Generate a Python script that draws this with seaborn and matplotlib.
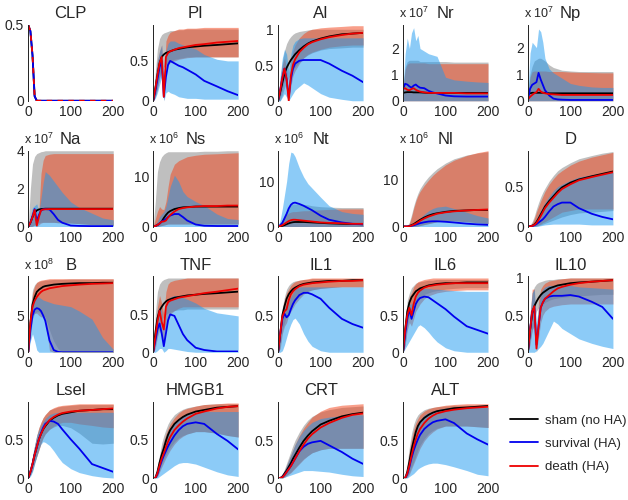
# Model trajectories: sham vs. survival vs. death, mean with shaded range
import pandas as pd
import seaborn as sb
import matplotlib.pyplot as plt
from matplotlib.lines import Line2D

# Time points (hours)
t = [0, 5, 10, 15, 20, 25, 30, 35, 40, 50, 60, 70, 80, 100, 120, 150, 175, 200]

zero_band = [0, 0, 0, 0, 0, 0, 0, 0, 0, 0, 0, 0, 0, 0, 0, 0, 0, 0]

# CLP (same for all groups)
clp = [0.5, 0.46, 0.3, 0.03, 0, 0, 0, 0, 0, 0, 0, 0, 0, 0, 0, 0, 0, 0]

# PI
pi_sham = [0, 0.15, 0.32, 0.47, 0.55, 0.58, 0.6, 0.61, 0.62, 0.64, 0.65, 0.66, 0.67, 0.68, 0.69, 0.7, 0.71, 0.72]
pi_sham_lo = [0, 0.05, 0.15, 0.28, 0.36, 0.42, 0.46, 0.48, 0.5, 0.52, 0.53, 0.54, 0.55, 0.55, 0.55, 0.55, 0.55, 0.55]
pi_sham_hi = [0, 0.35, 0.65, 0.78, 0.83, 0.85, 0.86, 0.87, 0.88, 0.88, 0.89, 0.89, 0.9, 0.9, 0.9, 0.9, 0.9, 0.9]
pi_surv = [0, 0.12, 0.27, 0.42, 0.5, 0.05, 0.3, 0.45, 0.5, 0.47, 0.44, 0.42, 0.39, 0.33, 0.25, 0.18, 0.12, 0.07]
pi_surv_lo = [0, 0.03, 0.1, 0.2, 0.3, 0.0, 0.1, 0.12, 0.1, 0.08, 0.05, 0.04, 0.03, 0.03, 0.02, 0.02, 0.02, 0.02]
pi_surv_hi = [0, 0.3, 0.5, 0.62, 0.7, 0.3, 0.62, 0.72, 0.75, 0.75, 0.72, 0.7, 0.68, 0.65, 0.58, 0.52, 0.5, 0.5]
pi_death = [0, 0.15, 0.32, 0.47, 0.55, 0.05, 0.55, 0.6, 0.62, 0.64, 0.66, 0.67, 0.68, 0.7, 0.71, 0.73, 0.74, 0.75]
pi_death_lo = [0, 0.05, 0.15, 0.3, 0.4, 0.0, 0.4, 0.45, 0.48, 0.5, 0.52, 0.53, 0.54, 0.55, 0.55, 0.55, 0.55, 0.55]
pi_death_hi = [0, 0.3, 0.5, 0.62, 0.7, 0.2, 0.75, 0.82, 0.86, 0.88, 0.9, 0.9, 0.91, 0.91, 0.92, 0.92, 0.92, 0.92]

# AI
ai_sham = [0, 0.12, 0.25, 0.38, 0.46, 0.52, 0.57, 0.61, 0.65, 0.71, 0.76, 0.8, 0.83, 0.87, 0.9, 0.93, 0.94, 0.95]
ai_sham_lo = [0, 0, 0.08, 0.18, 0.26, 0.32, 0.38, 0.43, 0.47, 0.54, 0.6, 0.64, 0.67, 0.71, 0.73, 0.74, 0.75, 0.75]
ai_sham_hi = [0, 0.3, 0.55, 0.7, 0.8, 0.86, 0.9, 0.93, 0.95, 0.97, 0.98, 0.99, 1.0, 1.0, 1.0, 1.0, 1.0, 1.0]
ai_surv = [0, 0.15, 0.32, 0.45, 0.3, 0.05, 0.3, 0.45, 0.52, 0.56, 0.57, 0.57, 0.57, 0.57, 0.52, 0.42, 0.35, 0.26]
ai_surv_lo = [0, 0, 0.05, 0.1, 0.05, 0, 0.05, 0.1, 0.15, 0.2, 0.25, 0.22, 0.18, 0.1, 0.05, 0.02, 0, 0]
ai_surv_hi = [0, 0.35, 0.6, 0.72, 0.65, 0.4, 0.65, 0.78, 0.83, 0.87, 0.88, 0.88, 0.88, 0.88, 0.88, 0.88, 0.88, 0.88]
ai_death = [0, 0.15, 0.32, 0.45, 0.3, 0.0, 0.35, 0.5, 0.58, 0.68, 0.74, 0.79, 0.82, 0.86, 0.89, 0.92, 0.94, 0.95]
ai_death_lo = [0, 0.05, 0.15, 0.3, 0.15, 0, 0.2, 0.35, 0.42, 0.52, 0.6, 0.65, 0.68, 0.72, 0.75, 0.77, 0.78, 0.78]
ai_death_hi = [0, 0.3, 0.5, 0.6, 0.45, 0.05, 0.55, 0.7, 0.78, 0.88, 0.94, 0.98, 1.0, 1.02, 1.03, 1.04, 1.05, 1.05]

# Nr (x 10^7)
nr_sham = [0.3, 0.32, 0.33, 0.33, 0.33, 0.32, 0.32, 0.32, 0.32, 0.31, 0.3, 0.3, 0.3, 0.3, 0.3, 0.3, 0.3, 0.3]
nr_sham_hi = [0.5, 1.3, 1.5, 1.55, 1.55, 1.55, 1.55, 1.55, 1.5, 1.5, 1.5, 1.5, 1.5, 1.5, 1.48, 1.48, 1.48, 1.48]
nr_surv = [0.45, 0.65, 0.62, 0.55, 0.5, 0.58, 0.62, 0.55, 0.5, 0.48, 0.38, 0.32, 0.28, 0.2, 0.17, 0.16, 0.16, 0.16]
nr_surv_hi = [0.5, 1.8, 2.4, 2.0, 2.6, 2.8, 2.3, 2.5, 2.0, 1.9, 1.8, 1.75, 1.7, 0.9, 0.8, 0.75, 0.72, 0.7]
nr_death = [0.45, 0.48, 0.42, 0.4, 0.45, 0.48, 0.42, 0.38, 0.35, 0.32, 0.3, 0.3, 0.3, 0.3, 0.3, 0.28, 0.28, 0.28]
nr_death_hi = [0.5, 1.2, 1.4, 1.45, 1.45, 1.45, 1.45, 1.45, 1.45, 1.45, 1.42, 1.42, 1.42, 1.42, 1.42, 1.42, 1.42, 1.42]

# Np (x 10^7)
np_sham = [0.25, 0.28, 0.3, 0.3, 0.3, 0.3, 0.3, 0.3, 0.3, 0.28, 0.28, 0.28, 0.28, 0.28, 0.28, 0.28, 0.28, 0.28]
np_sham_hi = [0.3, 1.0, 1.3, 1.5, 1.55, 1.6, 1.6, 1.55, 1.5, 1.35, 1.25, 1.2, 1.15, 1.12, 1.1, 1.1, 1.1, 1.1]
np_surv = [0.05, 0.45, 0.6, 0.65, 0.7, 1.05, 0.8, 0.6, 0.4, 0.2, 0.08, 0.05, 0.04, 0.03, 0.03, 0.03, 0.03, 0.03]
np_surv_hi = [0.3, 1.8, 2.2, 2.1, 2.0, 2.7, 2.6, 2.2, 1.6, 1.2, 1.05, 0.95, 0.85, 0.65, 0.58, 0.52, 0.5, 0.5]
np_death = [0.05, 0.15, 0.22, 0.28, 0.32, 0.45, 0.35, 0.3, 0.28, 0.25, 0.24, 0.23, 0.22, 0.22, 0.22, 0.22, 0.22, 0.22]
np_death_hi = [0.2, 0.9, 1.1, 1.12, 1.12, 1.12, 1.12, 1.12, 1.12, 1.1, 1.1, 1.1, 1.1, 1.08, 1.07, 1.06, 1.05, 1.05]

# Na (x 10^7)
na_sham = [0, 0.2, 0.5, 0.72, 0.85, 0.9, 0.92, 0.93, 0.94, 0.94, 0.94, 0.94, 0.94, 0.94, 0.94, 0.94, 0.94, 0.94]
na_sham_lo = [0, 0, 0.02, 0.08, 0.15, 0.2, 0.22, 0.22, 0.22, 0.22, 0.22, 0.2, 0.2, 0.18, 0.15, 0.1, 0.08, 0.05]
na_sham_hi = [0, 2.0, 3.3, 3.7, 3.85, 3.9, 3.95, 3.97, 4.0, 4.0, 4.0, 4.0, 4.0, 4.0, 4.0, 4.0, 4.0, 4.0]
na_surv = [0, 0.2, 0.55, 0.92, 0.3, 0.6, 0.85, 0.9, 0.92, 0.9, 0.65, 0.35, 0.2, 0.05, 0.03, 0.02, 0.02, 0.02]
na_surv_hi = [0, 0.5, 1.0, 1.1, 1.2, 0.8, 1.5, 2.3, 2.9, 2.7, 2.4, 2.1, 1.8, 1.3, 1.0, 0.7, 0.45, 0.35]
na_death = [0, 0.2, 0.5, 0.88, 0.05, 0.5, 0.85, 0.9, 0.91, 0.92, 0.92, 0.92, 0.92, 0.92, 0.92, 0.92, 0.92, 0.92]
na_death_lo = [0, 0, 0.02, 0.08, 0, 0.1, 0.18, 0.22, 0.22, 0.22, 0.22, 0.2, 0.2, 0.18, 0.15, 0.1, 0.08, 0.05]
na_death_hi = [0, 0.3, 0.5, 0.6, 0.3, 0.8, 2.8, 3.5, 3.75, 3.82, 3.85, 3.85, 3.85, 3.85, 3.85, 3.85, 3.85, 3.85]

# Ns (x 10^6)
ns_sham = [0, 0.1, 0.3, 0.6, 1.0, 1.7, 2.3, 2.8, 3.1, 3.5, 3.7, 3.85, 3.9, 4.0, 4.0, 4.0, 4.0, 4.0]
ns_sham_lo = [0, 0, 0, 0.1, 0.2, 0.3, 0.4, 0.5, 0.5, 0.5, 0.5, 0.5, 0.5, 0.5, 0.5, 0.5, 0.5, 0.5]
ns_sham_hi = [0, 5, 11, 13, 14, 14.5, 14.8, 15, 15, 15, 15, 15, 15, 15, 15.1, 15.1, 15.2, 15.2]
ns_surv = [0, 0.1, 0.3, 0.6, 1.0, 1.2, 1.5, 1.9, 2.2, 2.5, 2.5, 1.9, 1.2, 0.4, 0.15, 0.1, 0.1, 0.1]
ns_surv_hi = [0, 0.3, 1, 2, 2.5, 3, 4, 6, 8, 10.3, 9, 7, 6, 5, 4.2, 2.5, 1.6, 1.4]
ns_death = [0, 0.1, 0.3, 0.6, 1.0, 1.0, 1.2, 1.8, 2.3, 3.0, 3.5, 3.7, 3.85, 4.0, 4.1, 4.1, 4.2, 4.2]
ns_death_hi = [0, 1.5, 3, 4, 3.5, 3.4, 5, 8, 10.5, 12.5, 13.2, 13.6, 14, 14.3, 14.5, 14.6, 14.7, 14.8]

# Nt (x 10^6)
nt_sham = [0, 0.05, 0.15, 0.3, 0.5, 0.7, 0.85, 0.95, 1.0, 1.0, 1.0, 0.95, 0.9, 0.8, 0.7, 0.6, 0.55, 0.5]
nt_sham_hi = [0, 0.5, 1.5, 2.5, 3.5, 4.2, 4.8, 5.0, 5.0, 5.0, 4.9, 4.8, 4.6, 4.4, 4.3, 4.2, 4.2, 4.2]
nt_surv = [0, 0.3, 0.8, 1.8, 2.8, 4.0, 4.8, 5.2, 5.3, 5.0, 4.6, 4.1, 3.6, 2.4, 1.5, 0.9, 0.6, 0.5]
nt_surv_hi = [0, 1.5, 4, 7, 10, 14, 16.5, 16.3, 15.5, 13, 11, 9.5, 8.5, 6.5, 4.6, 3.3, 2.9, 2.7]
nt_death = [0, 0.1, 0.3, 0.6, 0.9, 1.2, 1.4, 1.5, 1.5, 1.4, 1.3, 1.2, 1.1, 0.9, 0.8, 0.7, 0.6, 0.6]
nt_death_hi = [0, 0.5, 1.2, 2.0, 2.6, 3.0, 3.2, 3.3, 3.3, 3.4, 3.5, 3.5, 3.6, 3.7, 3.8, 3.9, 3.9, 3.9]

# Nl (x 10^6)
nl_sham = [0, 0, 0, 0.1, 0.3, 0.5, 0.8, 1.1, 1.4, 1.9, 2.3, 2.6, 2.8, 3.1, 3.3, 3.4, 3.5, 3.5]
nl_sham_lo = [0, 0, 0, 0, 0, 0, 0.05, 0.1, 0.2, 0.4, 0.6, 0.8, 1.0, 1.2, 1.2, 1.0, 0.8, 0.6]
nl_sham_hi = [0, 0, 0.2, 0.9, 2.5, 4.3, 5.8, 7.0, 8.0, 9.4, 10.5, 11.4, 12.2, 13.4, 14.3, 15.1, 15.5, 15.8]
nl_surv = [0, 0, 0, 0.05, 0.15, 0.25, 0.4, 0.55, 0.7, 0.9, 1.05, 1.1, 1.1, 1.0, 0.85, 0.6, 0.45, 0.35]
nl_surv_hi = [0, 0, 0.05, 0.15, 0.4, 0.7, 1.0, 1.4, 1.8, 2.6, 3.3, 3.8, 4.1, 4.3, 3.8, 3.0, 2.3, 1.8]
nl_death = [0, 0, 0, 0.05, 0.2, 0.4, 0.6, 0.9, 1.2, 1.7, 2.1, 2.4, 2.7, 3.0, 3.2, 3.4, 3.5, 3.6]
nl_death_lo = [0, 0, 0, 0, 0, 0, 0.05, 0.1, 0.2, 0.4, 0.6, 0.8, 1.0, 1.2, 1.2, 1.0, 0.8, 0.6]
nl_death_hi = [0, 0, 0.1, 0.6, 2.0, 3.8, 5.3, 6.5, 7.4, 8.7, 9.8, 10.8, 11.6, 13.0, 14.0, 15.0, 15.6, 16.0]

# D
d_sham = [0, 0.003, 0.01, 0.025, 0.055, 0.1, 0.15, 0.2, 0.25, 0.32, 0.38, 0.44, 0.49, 0.55, 0.59, 0.63, 0.66, 0.69]
d_sham_lo = [0, 0, 0, 0, 0.005, 0.01, 0.02, 0.03, 0.04, 0.06, 0.08, 0.1, 0.12, 0.15, 0.17, 0.18, 0.19, 0.2]
d_sham_hi = [0, 0.02, 0.06, 0.13, 0.22, 0.3, 0.37, 0.43, 0.48, 0.57, 0.64, 0.7, 0.74, 0.8, 0.85, 0.89, 0.92, 0.94]
d_surv = [0, 0.002, 0.006, 0.015, 0.03, 0.05, 0.07, 0.09, 0.12, 0.19, 0.25, 0.28, 0.3, 0.3, 0.23, 0.16, 0.12, 0.09]
d_surv_lo = [0, 0, 0, 0, 0, 0.005, 0.01, 0.015, 0.02, 0.025, 0.03, 0.03, 0.03, 0.03, 0.03, 0.02, 0.02, 0.02]
d_surv_hi = [0, 0.005, 0.02, 0.05, 0.1, 0.15, 0.2, 0.25, 0.3, 0.38, 0.45, 0.5, 0.53, 0.58, 0.62, 0.65, 0.67, 0.68]
d_death = [0, 0.002, 0.008, 0.02, 0.045, 0.085, 0.13, 0.18, 0.23, 0.3, 0.36, 0.42, 0.47, 0.53, 0.58, 0.62, 0.65, 0.68]
d_death_lo = [0, 0, 0, 0.005, 0.01, 0.02, 0.03, 0.05, 0.06, 0.09, 0.12, 0.15, 0.18, 0.2, 0.22, 0.22, 0.22, 0.22]
d_death_hi = [0, 0.01, 0.04, 0.1, 0.18, 0.25, 0.32, 0.38, 0.44, 0.53, 0.6, 0.66, 0.7, 0.77, 0.82, 0.87, 0.9, 0.93]

# B (x 10^8)
b_sham = [0, 4, 6.5, 7.5, 8.2, 8.5, 8.7, 8.9, 9.0, 9.1, 9.2, 9.25, 9.3, 9.35, 9.4, 9.4, 9.45, 9.45]
b_sham_lo = [0, 2, 4.5, 5.3, 5.5, 5.5, 5.3, 5.0, 4.8, 3, 1.5, 0.5, 0, 0, 0, 0, 0, 0]
b_sham_hi = [0, 6, 8.5, 9.2, 9.5, 9.6, 9.7, 9.75, 9.8, 9.85, 9.9, 9.9, 9.9, 9.95, 9.95, 9.95, 9.95, 9.95]
b_surv = [0, 3, 5, 5.8, 6.0, 5.9, 5.6, 5.0, 4.3, 1.6, 0.3, 0.05, 0, 0, 0, 0, 0, 0]
b_surv_lo = [0, 1.5, 2.5, 1.5, 0.3, 0, 0, 0, 0, 0, 0, 0, 0, 0, 0, 0, 0, 0]
b_surv_hi = [0, 4, 6.5, 7.2, 7.5, 7.5, 7.3, 7.1, 7.0, 6.8, 6.6, 6.5, 6.4, 6.2, 5.6, 4.5, 2.0, 0.4]
b_death = [0, 4, 6.2, 7.0, 7.5, 7.9, 8.2, 8.4, 8.5, 8.7, 8.8, 8.9, 9.0, 9.1, 9.2, 9.3, 9.35, 9.4]
b_death_lo = [0, 3, 5, 5.3, 5.3, 5.0, 4.8, 4.8, 4.5, 0.2, 0, 0, 0, 0, 0, 0, 0, 0]
b_death_hi = [0, 5, 8, 9, 9.5, 9.7, 9.8, 9.85, 9.9, 10, 10, 10, 10, 10, 10, 10, 10, 10]

# TNF
tnf_sham = [0, 0.25, 0.45, 0.55, 0.6, 0.64, 0.67, 0.69, 0.7, 0.72, 0.73, 0.74, 0.75, 0.76, 0.77, 0.78, 0.79, 0.8]
tnf_sham_lo = [0, 0.1, 0.25, 0.35, 0.42, 0.47, 0.5, 0.52, 0.53, 0.55, 0.56, 0.56, 0.57, 0.57, 0.57, 0.57, 0.57, 0.57]
tnf_sham_hi = [0, 0.5, 0.8, 0.9, 0.94, 0.96, 0.97, 0.98, 0.98, 0.98, 0.98, 0.98, 0.98, 0.98, 0.98, 0.98, 0.98, 0.98]
tnf_surv = [0, 0.15, 0.3, 0.38, 0.25, 0.08, 0.25, 0.42, 0.5, 0.48, 0.36, 0.24, 0.16, 0.06, 0.03, 0.01, 0.01, 0.01]
tnf_surv_lo = [0, 0, 0.02, 0.05, 0.05, 0, 0.02, 0.05, 0.05, 0.04, 0.03, 0.02, 0.01, 0, 0, 0, 0, 0]
tnf_surv_hi = [0, 0.3, 0.55, 0.6, 0.55, 0.3, 0.6, 0.7, 0.73, 0.75, 0.74, 0.72, 0.7, 0.65, 0.58, 0.52, 0.5, 0.48]
tnf_death = [0, 0.2, 0.4, 0.55, 0.4, 0.3, 0.6, 0.66, 0.68, 0.7, 0.72, 0.73, 0.74, 0.76, 0.78, 0.8, 0.82, 0.84]
tnf_death_lo = [0, 0.05, 0.2, 0.3, 0.2, 0.1, 0.35, 0.45, 0.5, 0.55, 0.58, 0.6, 0.6, 0.6, 0.6, 0.6, 0.6, 0.6]
tnf_death_hi = [0, 0.3, 0.6, 0.75, 0.65, 0.5, 0.8, 0.9, 0.93, 0.95, 0.96, 0.97, 0.98, 0.98, 0.98, 0.98, 0.98, 0.98]

# IL1
il1_sham = [0, 0.25, 0.5, 0.62, 0.72, 0.78, 0.82, 0.85, 0.87, 0.9, 0.92, 0.93, 0.94, 0.95, 0.96, 0.96, 0.97, 0.97]
il1_sham_lo = [0, 0.1, 0.3, 0.4, 0.5, 0.55, 0.6, 0.65, 0.7, 0.75, 0.8, 0.82, 0.84, 0.86, 0.87, 0.88, 0.88, 0.88]
il1_sham_hi = [0, 0.3, 0.6, 0.75, 0.85, 0.9, 0.93, 0.95, 0.96, 0.97, 0.98, 0.98, 0.99, 0.99, 0.99, 0.99, 0.99, 0.99]
il1_surv = [0, 0.25, 0.45, 0.52, 0.47, 0.5, 0.58, 0.65, 0.7, 0.77, 0.8, 0.8, 0.78, 0.72, 0.6, 0.45, 0.38, 0.33]
il1_surv_lo = [0, 0, 0.02, 0.1, 0.2, 0.3, 0.38, 0.44, 0.46, 0.38, 0.25, 0.15, 0.08, 0.02, 0, 0, 0, 0]
il1_surv_hi = [0, 0.25, 0.5, 0.6, 0.65, 0.7, 0.75, 0.8, 0.85, 0.88, 0.88, 0.88, 0.88, 0.88, 0.88, 0.88, 0.88, 0.88]
il1_death = [0, 0.25, 0.48, 0.55, 0.58, 0.7, 0.78, 0.82, 0.85, 0.89, 0.91, 0.92, 0.93, 0.94, 0.95, 0.96, 0.96, 0.97]
il1_death_lo = [0, 0.05, 0.25, 0.35, 0.4, 0.5, 0.55, 0.6, 0.65, 0.72, 0.78, 0.82, 0.84, 0.86, 0.87, 0.88, 0.88, 0.88]
il1_death_hi = [0, 0.3, 0.55, 0.7, 0.8, 0.85, 0.9, 0.93, 0.95, 0.97, 0.98, 0.99, 1.0, 1.0, 1.0, 1.0, 1.0, 1.0]

# IL6
il6_sham = [0, 0.3, 0.55, 0.67, 0.74, 0.78, 0.82, 0.84, 0.86, 0.88, 0.9, 0.91, 0.92, 0.93, 0.93, 0.94, 0.94, 0.94]
il6_sham_lo = [0, 0.1, 0.35, 0.5, 0.58, 0.63, 0.68, 0.71, 0.74, 0.78, 0.8, 0.82, 0.83, 0.85, 0.86, 0.87, 0.87, 0.87]
il6_sham_hi = [0, 0.4, 0.7, 0.8, 0.87, 0.9, 0.93, 0.94, 0.95, 0.96, 0.97, 0.97, 0.98, 0.98, 0.98, 0.98, 0.98, 0.98]
il6_surv = [0, 0.25, 0.45, 0.58, 0.45, 0.55, 0.65, 0.7, 0.73, 0.75, 0.74, 0.7, 0.66, 0.58, 0.48, 0.35, 0.3, 0.25]
il6_surv_lo = [0, 0.05, 0.1, 0.15, 0.2, 0.25, 0.3, 0.35, 0.37, 0.33, 0.27, 0.2, 0.14, 0.06, 0.02, 0, 0, 0]
il6_surv_hi = [0, 0.3, 0.55, 0.65, 0.65, 0.7, 0.78, 0.82, 0.85, 0.86, 0.86, 0.85, 0.85, 0.84, 0.83, 0.82, 0.82, 0.82]
il6_death = [0, 0.3, 0.5, 0.6, 0.5, 0.65, 0.75, 0.8, 0.83, 0.87, 0.89, 0.9, 0.91, 0.92, 0.93, 0.93, 0.93, 0.93]
il6_death_lo = [0, 0.1, 0.3, 0.4, 0.35, 0.45, 0.55, 0.6, 0.65, 0.72, 0.76, 0.78, 0.8, 0.82, 0.83, 0.84, 0.84, 0.84]
il6_death_hi = [0, 0.35, 0.6, 0.75, 0.8, 0.88, 0.92, 0.95, 0.96, 0.98, 0.99, 1.0, 1.0, 1.0, 1.0, 1.0, 1.0, 1.0]

# IL10
il10_sham = [0, 0.3, 0.52, 0.62, 0.68, 0.73, 0.77, 0.8, 0.82, 0.86, 0.88, 0.9, 0.91, 0.93, 0.94, 0.95, 0.96, 0.97]
il10_sham_lo = [0, 0.15, 0.3, 0.45, 0.55, 0.6, 0.63, 0.65, 0.67, 0.7, 0.72, 0.73, 0.74, 0.75, 0.76, 0.77, 0.78, 0.78]
il10_sham_hi = [0, 0.5, 0.8, 0.88, 0.92, 0.94, 0.95, 0.96, 0.97, 0.98, 0.98, 0.99, 0.99, 1.0, 1.0, 1.0, 1.0, 1.0]
il10_surv = [0, 0.3, 0.55, 0.6, 0.1, 0.35, 0.6, 0.67, 0.72, 0.75, 0.76, 0.76, 0.76, 0.77, 0.75, 0.68, 0.61, 0.45]
il10_surv_lo = [0, 0, 0, 0, 0.02, 0.05, 0.08, 0.12, 0.18, 0.3, 0.42, 0.38, 0.32, 0.25, 0.18, 0.12, 0.08, 0.05]
il10_surv_hi = [0, 0.5, 0.8, 0.85, 0.4, 0.6, 0.8, 0.85, 0.88, 0.9, 0.9, 0.9, 0.9, 0.9, 0.88, 0.87, 0.86, 0.85]
il10_death = [0, 0.3, 0.55, 0.62, 0.05, 0.35, 0.6, 0.67, 0.72, 0.77, 0.82, 0.86, 0.88, 0.91, 0.93, 0.95, 0.96, 0.97]
il10_death_lo = [0, 0.1, 0.3, 0.35, 0, 0.2, 0.4, 0.5, 0.55, 0.6, 0.62, 0.63, 0.64, 0.65, 0.65, 0.65, 0.65, 0.65]
il10_death_hi = [0, 0.5, 0.85, 0.85, 0.2, 0.7, 0.85, 0.9, 0.93, 0.96, 0.97, 0.98, 0.99, 1.0, 1.0, 1.0, 1.0, 1.0]

# Lsel
lsel_sham = [0, 0.08, 0.18, 0.3, 0.4, 0.5, 0.57, 0.63, 0.67, 0.74, 0.78, 0.81, 0.83, 0.85, 0.87, 0.88, 0.89, 0.89]
lsel_sham_lo = [0, 0.04, 0.1, 0.2, 0.28, 0.36, 0.45, 0.52, 0.57, 0.63, 0.66, 0.68, 0.68, 0.65, 0.58, 0.45, 0.44, 0.45]
lsel_sham_hi = [0, 0.12, 0.28, 0.42, 0.55, 0.65, 0.72, 0.78, 0.82, 0.88, 0.9, 0.92, 0.93, 0.94, 0.95, 0.95, 0.95, 0.95]
lsel_surv = [0, 0.08, 0.18, 0.3, 0.4, 0.5, 0.58, 0.65, 0.7, 0.74, 0.73, 0.7, 0.63, 0.5, 0.38, 0.18, 0.13, 0.08]
lsel_surv_lo = [0, 0.02, 0.08, 0.18, 0.28, 0.38, 0.44, 0.47, 0.46, 0.42, 0.35, 0.27, 0.2, 0.12, 0.07, 0.03, 0.01, 0.0]
lsel_surv_hi = [0, 0.12, 0.28, 0.42, 0.55, 0.62, 0.68, 0.73, 0.77, 0.82, 0.84, 0.85, 0.85, 0.85, 0.85, 0.85, 0.85, 0.85]
lsel_death = [0, 0.08, 0.18, 0.3, 0.4, 0.5, 0.57, 0.63, 0.68, 0.75, 0.79, 0.82, 0.84, 0.86, 0.87, 0.88, 0.89, 0.9]
lsel_death_lo = [0, 0.04, 0.1, 0.2, 0.28, 0.36, 0.45, 0.52, 0.57, 0.63, 0.67, 0.7, 0.72, 0.72, 0.7, 0.68, 0.66, 0.65]
lsel_death_hi = [0, 0.12, 0.28, 0.42, 0.55, 0.65, 0.72, 0.78, 0.82, 0.88, 0.91, 0.93, 0.94, 0.95, 0.96, 0.96, 0.96, 0.96]

# HMGB1
hmgb1_sham = [0, 0, 0.08, 0.2, 0.3, 0.38, 0.48, 0.56, 0.62, 0.7, 0.75, 0.79, 0.82, 0.86, 0.88, 0.91, 0.92, 0.93]
hmgb1_sham_lo = [0, 0, 0.02, 0.1, 0.18, 0.24, 0.3, 0.35, 0.4, 0.47, 0.52, 0.55, 0.57, 0.6, 0.6, 0.58, 0.55, 0.53]
hmgb1_sham_hi = [0, 0.02, 0.15, 0.3, 0.45, 0.55, 0.63, 0.7, 0.75, 0.82, 0.86, 0.89, 0.91, 0.93, 0.95, 0.96, 0.96, 0.96]
hmgb1_surv = [0, 0, 0.05, 0.14, 0.22, 0.29, 0.35, 0.41, 0.46, 0.55, 0.62, 0.67, 0.7, 0.72, 0.7, 0.57, 0.48, 0.37]
hmgb1_surv_lo = [0, 0, 0, 0.02, 0.04, 0.06, 0.08, 0.1, 0.12, 0.16, 0.19, 0.2, 0.2, 0.18, 0.14, 0.08, 0.04, 0.02]
hmgb1_surv_hi = [0, 0.02, 0.12, 0.25, 0.37, 0.46, 0.54, 0.6, 0.65, 0.72, 0.77, 0.8, 0.82, 0.85, 0.86, 0.86, 0.86, 0.86]
hmgb1_death = [0, 0, 0.06, 0.16, 0.25, 0.32, 0.4, 0.47, 0.53, 0.62, 0.68, 0.73, 0.77, 0.83, 0.86, 0.9, 0.92, 0.93]
hmgb1_death_lo = [0, 0, 0.02, 0.08, 0.14, 0.2, 0.26, 0.31, 0.36, 0.44, 0.5, 0.54, 0.57, 0.6, 0.6, 0.58, 0.55, 0.53]
hmgb1_death_hi = [0, 0.02, 0.12, 0.25, 0.38, 0.48, 0.57, 0.64, 0.7, 0.78, 0.84, 0.88, 0.9, 0.93, 0.95, 0.96, 0.97, 0.97]

# CRT
crt_sham = [0, 0, 0.02, 0.06, 0.1, 0.15, 0.2, 0.26, 0.31, 0.41, 0.5, 0.57, 0.63, 0.72, 0.77, 0.83, 0.86, 0.88]
crt_sham_lo = [0, 0, 0, 0.02, 0.04, 0.06, 0.08, 0.11, 0.14, 0.2, 0.26, 0.3, 0.34, 0.38, 0.4, 0.4, 0.4, 0.4]
crt_sham_hi = [0, 0.01, 0.05, 0.12, 0.2, 0.28, 0.36, 0.44, 0.51, 0.62, 0.71, 0.78, 0.83, 0.89, 0.92, 0.95, 0.96, 0.97]
crt_surv = [0, 0, 0.01, 0.04, 0.08, 0.12, 0.16, 0.21, 0.26, 0.36, 0.42, 0.46, 0.48, 0.5, 0.44, 0.35, 0.26, 0.19]
crt_surv_lo = [0, 0, 0, 0.01, 0.02, 0.03, 0.04, 0.05, 0.06, 0.08, 0.1, 0.1, 0.1, 0.09, 0.08, 0.05, 0.03, 0.02]
crt_surv_hi = [0, 0.01, 0.04, 0.1, 0.17, 0.24, 0.31, 0.38, 0.45, 0.56, 0.64, 0.7, 0.75, 0.8, 0.82, 0.84, 0.85, 0.85]
crt_death = [0, 0, 0.01, 0.04, 0.08, 0.12, 0.16, 0.21, 0.26, 0.36, 0.45, 0.53, 0.59, 0.68, 0.74, 0.81, 0.85, 0.87]
crt_death_lo = [0, 0, 0, 0.01, 0.03, 0.05, 0.07, 0.1, 0.13, 0.19, 0.25, 0.3, 0.34, 0.38, 0.4, 0.4, 0.4, 0.4]
crt_death_hi = [0, 0.01, 0.04, 0.1, 0.17, 0.24, 0.31, 0.38, 0.45, 0.57, 0.67, 0.75, 0.82, 0.9, 0.95, 0.98, 0.99, 1.0]

# ALT
alt_sham = [0, 0, 0.08, 0.22, 0.38, 0.5, 0.62, 0.7, 0.75, 0.81, 0.85, 0.88, 0.9, 0.92, 0.94, 0.95, 0.96, 0.97]
alt_sham_lo = [0, 0, 0.02, 0.08, 0.15, 0.22, 0.3, 0.38, 0.44, 0.53, 0.6, 0.64, 0.67, 0.7, 0.7, 0.7, 0.69, 0.68]
alt_sham_hi = [0, 0.02, 0.2, 0.42, 0.6, 0.72, 0.8, 0.85, 0.88, 0.92, 0.94, 0.95, 0.96, 0.97, 0.98, 0.98, 0.98, 0.98]
alt_surv = [0, 0, 0.05, 0.15, 0.27, 0.37, 0.45, 0.52, 0.58, 0.66, 0.71, 0.75, 0.77, 0.79, 0.74, 0.6, 0.52, 0.45]
alt_surv_lo = [0, 0, 0, 0.02, 0.04, 0.06, 0.09, 0.12, 0.14, 0.17, 0.19, 0.2, 0.2, 0.18, 0.15, 0.1, 0.05, 0.03]
alt_surv_hi = [0, 0.01, 0.12, 0.3, 0.45, 0.57, 0.66, 0.73, 0.78, 0.85, 0.88, 0.9, 0.92, 0.94, 0.95, 0.95, 0.95, 0.95]
alt_death = [0, 0, 0.06, 0.17, 0.3, 0.42, 0.52, 0.6, 0.66, 0.74, 0.8, 0.84, 0.87, 0.9, 0.92, 0.94, 0.95, 0.96]
alt_death_lo = [0, 0, 0.01, 0.05, 0.12, 0.19, 0.26, 0.33, 0.4, 0.5, 0.57, 0.62, 0.66, 0.7, 0.7, 0.7, 0.69, 0.68]
alt_death_hi = [0, 0.01, 0.15, 0.35, 0.52, 0.65, 0.74, 0.8, 0.85, 0.9, 0.93, 0.95, 0.96, 0.98, 0.99, 1.0, 1.0, 1.0]

# Panel table: name, exponent label, (mean, lo, hi) for sham / survival / death
panels = [
    ("CLP", None, (clp, clp, clp), (clp, clp, clp), (clp, clp, clp)),
    ("PI", None, (pi_sham, pi_sham_lo, pi_sham_hi), (pi_surv, pi_surv_lo, pi_surv_hi), (pi_death, pi_death_lo, pi_death_hi)),
    ("AI", None, (ai_sham, ai_sham_lo, ai_sham_hi), (ai_surv, ai_surv_lo, ai_surv_hi), (ai_death, ai_death_lo, ai_death_hi)),
    ("Nr", 7, (nr_sham, zero_band, nr_sham_hi), (nr_surv, zero_band, nr_surv_hi), (nr_death, zero_band, nr_death_hi)),
    ("Np", 7, (np_sham, zero_band, np_sham_hi), (np_surv, zero_band, np_surv_hi), (np_death, zero_band, np_death_hi)),
    ("Na", 7, (na_sham, na_sham_lo, na_sham_hi), (na_surv, zero_band, na_surv_hi), (na_death, na_death_lo, na_death_hi)),
    ("Ns", 6, (ns_sham, ns_sham_lo, ns_sham_hi), (ns_surv, zero_band, ns_surv_hi), (ns_death, ns_sham_lo, ns_death_hi)),
    ("Nt", 6, (nt_sham, zero_band, nt_sham_hi), (nt_surv, zero_band, nt_surv_hi), (nt_death, zero_band, nt_death_hi)),
    ("Nl", 6, (nl_sham, nl_sham_lo, nl_sham_hi), (nl_surv, zero_band, nl_surv_hi), (nl_death, nl_death_lo, nl_death_hi)),
    ("D", None, (d_sham, d_sham_lo, d_sham_hi), (d_surv, d_surv_lo, d_surv_hi), (d_death, d_death_lo, d_death_hi)),
    ("B", 8, (b_sham, b_sham_lo, b_sham_hi), (b_surv, b_surv_lo, b_surv_hi), (b_death, b_death_lo, b_death_hi)),
    ("TNF", None, (tnf_sham, tnf_sham_lo, tnf_sham_hi), (tnf_surv, tnf_surv_lo, tnf_surv_hi), (tnf_death, tnf_death_lo, tnf_death_hi)),
    ("IL1", None, (il1_sham, il1_sham_lo, il1_sham_hi), (il1_surv, il1_surv_lo, il1_surv_hi), (il1_death, il1_death_lo, il1_death_hi)),
    ("IL6", None, (il6_sham, il6_sham_lo, il6_sham_hi), (il6_surv, il6_surv_lo, il6_surv_hi), (il6_death, il6_death_lo, il6_death_hi)),
    ("IL10", None, (il10_sham, il10_sham_lo, il10_sham_hi), (il10_surv, il10_surv_lo, il10_surv_hi), (il10_death, il10_death_lo, il10_death_hi)),
    ("Lsel", None, (lsel_sham, lsel_sham_lo, lsel_sham_hi), (lsel_surv, lsel_surv_lo, lsel_surv_hi), (lsel_death, lsel_death_lo, lsel_death_hi)),
    ("HMGB1", None, (hmgb1_sham, hmgb1_sham_lo, hmgb1_sham_hi), (hmgb1_surv, hmgb1_surv_lo, hmgb1_surv_hi), (hmgb1_death, hmgb1_death_lo, hmgb1_death_hi)),
    ("CRT", None, (crt_sham, crt_sham_lo, crt_sham_hi), (crt_surv, crt_surv_lo, crt_surv_hi), (crt_death, crt_death_lo, crt_death_hi)),
    ("ALT", None, (alt_sham, alt_sham_lo, alt_sham_hi), (alt_surv, alt_surv_lo, alt_surv_hi), (alt_death, alt_death_lo, alt_death_hi)),
]

# Axis limits and ticks per panel
y_top = {"CLP": 0.5, "PI": 0.95, "AI": 1.06, "Nr": 2.9, "Np": 2.85, "Na": 4.0, "Ns": 15.2,
         "Nt": 16.8, "Nl": 16.0, "D": 0.95, "B": 10.3, "TNF": 1.0, "IL1": 1.02, "IL6": 1.02,
         "IL10": 1.02, "Lsel": 0.98, "HMGB1": 0.98, "CRT": 1.02, "ALT": 1.02}
y_ticks = {"CLP": ["0", "0.5"], "AI": ["0", "0.5", "1"], "IL10": ["0", "0.5", "1"],
           "Nr": ["0", "1", "2"], "Np": ["0", "1", "2"], "Na": ["0", "2", "4"],
           "Ns": ["0", "10"], "Nt": ["0", "10"], "Nl": ["0", "10"], "B": ["0", "5"]}

groups = ["sham (no HA)", "survival (HA)", "death (HA)"]
line_colors = {"sham (no HA)": "black", "survival (HA)": "#0000ee", "death (HA)": "#ee0000"}
band_colors = ["#808080", "#f24016", "#1a99f0"]

sb.set_theme(style="white")
plt.rcParams["font.family"] = ["Liberation Sans", "DejaVu Sans"]
plt.rcParams["mathtext.default"] = "regular"

fig, axes = plt.subplots(4, 5, figsize=(6.28, 5.0), dpi=100)
fig.subplots_adjust(left=0.045, right=0.976, top=0.95, bottom=0.044, wspace=0.47, hspace=0.66)

for ax, (name, expo, sham, surv, death) in zip(axes.flat, panels):
    # bands: sham first, then death, then survival on top
    for (mean, lo, hi), col in zip([sham, death, surv], band_colors):
        ax.fill_between(t, lo, hi, color=col, alpha=0.5, linewidth=0)

    df = pd.concat([
        pd.DataFrame({"t": t, "v": sham[0], "group": groups[0]}),
        pd.DataFrame({"t": t, "v": surv[0], "group": groups[1]}),
        pd.DataFrame({"t": t, "v": death[0], "group": groups[2]}),
    ])
    sb.lineplot(data=df, x="t", y="v", hue="group", hue_order=groups, palette=line_colors,
                ax=ax, legend=False, linewidth=1.3)
    if name == "CLP":
        ax.lines[-1].set_dashes([3, 3])

    ax.set_xlim(0, 200)
    ax.set_ylim(0, y_top[name])
    ax.set_xticks([0, 100, 200])
    labels = y_ticks.get(name, ["0", "0.5"])
    ax.set_yticks([float(s) for s in labels])
    ax.set_yticklabels(labels)
    ax.set_xlabel("")
    ax.set_ylabel("")
    ax.tick_params(length=0, pad=3, labelsize=10)
    for side in ["top", "right", "bottom"]:
        ax.spines[side].set_visible(False)
    ax.spines["left"].set_color("#222222")
    ax.spines["left"].set_linewidth(0.7)
    ax.set_title(name, fontsize=12, pad=5)
    if expo is not None:
        ax.annotate("x 10$^{%d}$" % expo, xy=(0, 1), xycoords="axes fraction",
                    xytext=(-3, 5), textcoords="offset points", ha="left", va="baseline", fontsize=9)

# Legend in the last slot
lax = axes.flat[-1]
lax.axis("off")
handles = [Line2D([], [], color=line_colors[g], linewidth=1.3) for g in groups]
lax.legend(handles, groups, loc="center left", bbox_to_anchor=(-0.27, 0.45), frameon=False,
           fontsize=9.5, handlelength=2.1, labelspacing=0.85, handletextpad=0.5, borderaxespad=0)

plt.savefig("out.png", dpi=100)
